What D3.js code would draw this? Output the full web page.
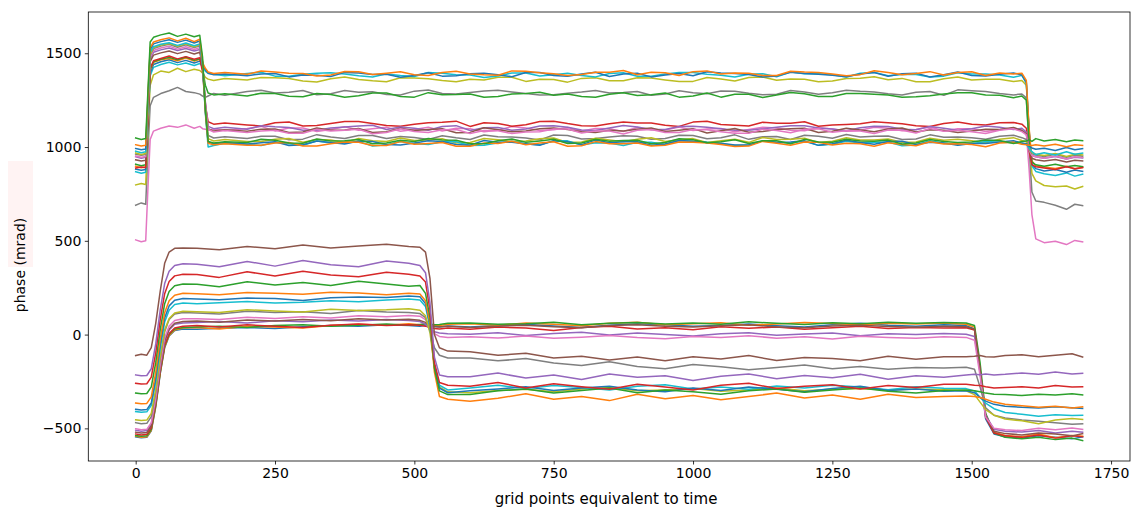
<!DOCTYPE html>
<html><head><meta charset="utf-8">
<script src="https://cdn.jsdelivr.net/npm/d3@7"></script>
<style>body{margin:0;background:#fff}svg{display:block}text{font-family:"DejaVu Sans",sans-serif}</style>
</head><body><svg id="c" width="1137" height="513"></svg>
<script>
// ---------- data ----------
const xTicks = [0, 250, 500, 750, 1000, 1250, 1500, 1750];
const yTicks = [-500, 0, 500, 1000, 1500];

// x samples of the lower family (grid points)
const lowerX = [0,10,20, 28,36,44,52,60,70,85, 110,150,200,250,300,350,400,450,490,510,
  520,528,536,545,560, 600,650,700,750,800,850,900,950,1000,1050,1100,1150,1200,1250,1300,1350,1400,1450,
  1490,1505,1515,1525,1540,1560, 1590,1620,1650,1680,1699];
// x samples of the upper family
const upperX = [0,10,18,22,26, 32,45,60,75,90,105,115, 120,125,130,140,160,
  200,225,250,275,300,325,350,375,400,425,450,475,500,525,550,575,600,625,650,675,700,725,750,775,800,825,850,875,
  900,925,950,975,1000,1025,1050,1075,1100,1125,1150,1175,1200,1225,1250,1275,1300,1325,1350,1375,1400,1425,1450,1475,1500,1525,1550,1575,
  1590,1598,1603,1608,1615, 1630,1650,1670,1685,1699];

// lower family, series 0..15
const low00 = [-545,-550,-548, -513,-385,-210,-70,-8,22,30, 28,34,38,32,42,48,44,52,48,45, 50,48,44,42,46,
  40,48,55,46,38,50,58,52,44,49,56,47,41,53,60,50,45,52, 48,30,-200,-450,-530,-545, -552,-540,-548,-556,-545];
const low01 = [-542,-548,-545, -510,-380,-205,-65,-5,25,35, 38,30,45,40,35,48,55,50,58,52, 55,52,50,48,55,
  58,50,62,55,47,60,66,52,58,63,50,56,65,59,52,61,56,62, 55,40,-180,-430,-520,-538, -545,-530,-550,-538,-542];
const low02 = [-538,-542,-540, -505,-375,-200,-60,0,30,38, 40,45,38,48,52,44,50,56,50,54, 56,55,52,54,60,
  62,55,58,66,52,60,64,57,62,55,68,60,54,63,58,66,60,64, 62,48,-150,-420,-525,-548, -555,-548,-560,-552,-565];
const low03 = [-530,-535,-532, -497,-368,-195,-55,5,35,45, 48,40,52,45,38,50,56,48,52,50, 45,38,32,30,35,
  28,40,35,22,38,45,30,36,26,42,34,40,28,36,44,32,38,35, 36,25,-190,-440,-525,-540, -548,-535,-552,-540,-545];
const low04 = [-510,-515,-512, -477,-350,-176,-38,25,55,62, 65,70,62,74,68,78,72,80,75,70, 55,30,15,8,5,
  2,10,-5,6,12,-2,8,0,-8,5,10,-4,3,9,-6,4,0,6, 2,-10,-200,-430,-505,-515, -520,-512,-525,-515,-520];
const low05 = [-520,-525,-522, -486,-355,-176,-34,30,60,70, 72,66,78,72,80,74,84,78,82,76, 65,50,42,40,44,
  38,45,50,42,36,48,52,44,40,47,53,41,37,46,50,43,39,45, 42,28,-185,-430,-515,-528, -535,-525,-530,-540,-528];
const low06 = [-502,-507,-505, -470,-340,-160,-18,45,75,85, 85,80,92,86,95,88,100,95,102,98, 80,40,5,-10,-15,
  -12,-18,-8,-20,-14,-5,-16,-22,-10,-15,-6,-19,-12,-24,-9,-16,-20,-12, -15,-30,-220,-440,-500,-508, -512,-500,-508,-498,-505];
const low07 = [-470,-475,-473, -437,-307,-130,15,80,110,118, 115,110,125,118,122,112,128,120,118,112, 90,20,-70,-110,-125,
  -125,-140,-128,-152,-165,-145,-170,-182,-160,-172,-188,-175,-162,-182,-170,-185,-175,-178, -174,-185,-280,-390,-430,-445, -455,-462,-470,-478,-475];
const low08 = [-454,-458,-456, -420,-292,-116,25,85,115,125, 122,118,132,126,120,135,128,132,138,130, 100,10,-170,-280,-305,
  -310,-298,-292,-305,-290,-282,-300,-295,-288,-302,-296,-285,-300,-292,-288,-296,-290,-294, -300,-320,-360,-400,-430,-450, -460,-475,-455,-448,-452];
const low09 = [-410,-414,-412, -377,-248,-73,67,130,160,168, 165,170,176,168,172,180,175,185,190,185, 150,40,-160,-270,-295,
  -285,-270,-288,-272,-282,-295,-276,-268,-290,-280,-292,-274,-285,-270,-280,-294,-278,-286, -288,-300,-335,-365,-395,-415, -425,-435,-428,-432,-430];
const low10 = [-398,-402,-400, -365,-233,-55,88,153,183,192, 190,186,195,192,182,196,200,198,206,202, 165,50,-170,-285,-310,
  -300,-290,-278,-298,-285,-275,-295,-305,-285,-298,-280,-292,-305,-288,-276,-298,-290,-302, -300,-310,-335,-355,-372,-382, -388,-392,-385,-390,-394];
const low11 = [-365,-369,-367, -332,-202,-25,116,180,210,220, 218,212,224,220,215,226,222,212,220,216, 180,60,-200,-330,-345,
  -355,-340,-315,-345,-330,-352,-318,-342,-325,-348,-330,-312,-338,-322,-345,-318,-335,-330, -328,-330,-335,-345,-360,-372, -380,-388,-382,-392,-385];
const low12 = [-312,-316,-314, -279,-150,25,165,230,260,270, 268,255,282,265,278,262,285,270,258,262, 220,90,-180,-300,-320,
  -320,-300,-290,-312,-298,-285,-310,-295,-305,-318,-300,-290,-308,-296,-285,-302,-312,-298, -296,-300,-305,-312,-318,-320, -325,-318,-322,-316,-322];
const low13 = [-260,-264,-262, -227,-98,78,218,283,313,322, 320,305,335,312,338,318,308,332,322,312, 280,130,-150,-255,-270,
  -275,-255,-285,-262,-278,-292,-265,-280,-295,-270,-260,-288,-275,-268,-290,-272,-282,-265, -265,-270,-272,-278,-285,-282, -278,-285,-272,-280,-278];
const low14 = [-215,-220,-218, -182,-50,130,272,338,368,378, 375,362,390,365,395,372,362,392,380,368, 330,170,-120,-215,-225,
  -225,-205,-232,-215,-240,-210,-228,-220,-245,-222,-210,-235,-218,-230,-212,-238,-220,-228, -215,-212,-214,-210,-215,-212, -205,-212,-200,-210,-206];
const low15 = [-112,-105,-110, -70,60,230,380,440,460,462, 460,452,470,458,478,462,472,482,470,466, 440,300,0,-70,-88,
  -92,-110,-100,-125,-115,-135,-120,-140,-118,-130,-112,-138,-122,-128,-140,-115,-132,-118, -118,-115,-112,-118,-120,-112, -108,-118,-110,-102,-120];

// upper family, series 16..32
const up16 = [505,495,500,780,1040, 1085,1100,1112,1105,1118,1100,1110, 1098,1095,1090,1096,1088,
  1099,1110,1086,1101,1102,1083,1094,1108,1090,1097,1105,1084,1093,1106,1085,1100,1098,1082,1090,1109,1101,1088,1092,1104,1086,1099,1097,1083,
  1104,1092,1091,1107,1088,1096,1099,1081,1093,1105,1102,1089,1087,1103,1096,1084,1090,1106,1100,1087,1094,1108,1085,1098,1097,1083,1092,1101,
  1090,1075,880,640,510, 490,498,480,502,494];
const up17 = [690,702,695,980,1220, 1265,1285,1300,1318,1296,1290,1282, 1272,1265,1272,1286,1276,
  1296,1303,1288,1292,1301,1279,1284,1301,1292,1295,1280,1277,1298,1304,1286,1283,1291,1299,1303,1294,1285,1278,1279,1287,1293,1302,1288,1291,
  1296,1276,1283,1300,1290,1284,1299,1298,1287,1279,1281,1301,1294,1282,1289,1303,1297,1293,1284,1278,1292,1296,1276,1305,1300,1296,1285,1278,
  1283,1262,1000,760,712, 705,690,668,695,688];
const up18 = [798,806,800,1080,1330, 1385,1405,1398,1420,1402,1415,1408, 1395,1372,1362,1355,1366,
  1358,1371,1370,1365,1352,1347,1364,1374,1360,1353,1348,1369,1368,1364,1355,1348,1362,1357,1372,1372,1350,1361,1360,1346,1366,1370,1354,1354,
  1369,1368,1358,1349,1350,1371,1363,1352,1371,1373,1356,1363,1361,1348,1352,1366,1367,1375,1359,1366,1348,1348,1364,1373,1357,1362,1362,1349,
  1355,1330,1080,860,820, 795,788,792,776,790];
const up19 = [868,860,866,1120,1380, 1425,1440,1452,1438,1448,1435,1445, 1430,1405,1392,1388,1380,
  1392,1399,1378,1378,1388,1394,1396,1389,1380,1373,1390,1382,1376,1397,1394,1386,1384,1371,1379,1395,1395,1379,1386,1393,1381,1374,1392,1396,
  1377,1377,1389,1398,1397,1388,1383,1373,1388,1391,1375,1400,1391,1391,1385,1373,1393,1398,1380,1387,1387,1374,1378,1396,1390,1390,1384,1372,
  1382,1340,1080,900,870, 858,848,862,845,855];
const up20 = [882,876,880,1130,1395, 1440,1455,1465,1450,1462,1448,1458, 1440,1412,1395,1385,1390,
  1380,1390,1392,1374,1384,1383,1376,1398,1395,1387,1388,1372,1382,1396,1378,1380,1391,1394,1386,1375,1397,1397,1381,1378,1389,1399,1376,1389,
  1393,1374,1384,1392,1380,1401,1395,1392,1387,1374,1379,1399,1392,1388,1383,1375,1390,1397,1377,1391,1394,1373,1386,1400,1381,1379,1388,1395,
  1384,1345,1090,910,885, 872,880,866,878,870];
const up21 = [898,890,895,1150,1410, 1452,1465,1472,1460,1475,1458,1468, 1450,1420,1400,1392,1398,
  1388,1405,1400,1394,1392,1379,1384,1403,1402,1387,1394,1401,1386,1382,1398,1404,1390,1385,1383,1406,1404,1396,1391,1381,1387,1399,1399,1408,
  1385,1399,1396,1381,1402,1406,1389,1395,1393,1382,1381,1404,1400,1398,1390,1380,1386,1407,1397,1386,1392,1402,1384,1397,1401,1381,1395,1390,
  1394,1355,1100,925,900, 893,886,898,884,892];
const up22 = [908,900,905,1160,1415, 1455,1468,1478,1465,1480,1462,1470, 1420,1330,1288,1278,1284,
  1272,1287,1285,1271,1268,1285,1280,1266,1274,1288,1288,1269,1266,1290,1279,1280,1283,1265,1270,1283,1286,1292,1276,1283,1269,1265,1282,1290,
  1275,1279,1288,1266,1272,1288,1266,1282,1281,1264,1277,1291,1284,1270,1270,1286,1285,1281,1278,1265,1268,1274,1283,1289,1290,1278,1276,1263,
  1272,1250,1030,920,905, 898,908,895,902,896];
const up23 = [888,894,890,1140,1420, 1460,1472,1485,1470,1482,1468,1476, 1400,1220,1135,1122,1128,
  1118,1112,1130,1134,1112,1115,1125,1136,1136,1126,1115,1111,1122,1129,1132,1138,1110,1129,1126,1111,1119,1136,1138,1125,1114,1112,1124,1134,
  1128,1128,1116,1110,1133,1137,1120,1116,1112,1132,1127,1127,1135,1111,1117,1120,1124,1135,1130,1124,1113,1109,1126,1133,1121,1117,1129,1131,
  1122,1100,980,905,895, 888,880,895,884,890];
const up24 = [948,940,945,1200,1470, 1505,1518,1528,1515,1525,1512,1520, 1440,1240,1110,1098,1105,
  1095,1114,1108,1104,1090,1089,1102,1107,1112,1116,1094,1107,1100,1089,1110,1114,1088,1103,1104,1090,1096,1112,1113,1106,1091,1088,1101,1115,
  1107,1094,1093,1110,1111,1105,1098,1089,1089,1098,1105,1113,1114,1102,1096,1087,1103,1111,1109,1095,1092,1109,1100,1090,1097,1112,1106,1093,
  1100,1080,990,955,948, 940,950,936,946,942];
const up25 = [932,926,930,1180,1455, 1490,1502,1512,1498,1510,1496,1505, 1430,1230,1098,1085,1092,
  1084,1095,1096,1077,1080,1102,1090,1091,1099,1078,1082,1100,1088,1094,1097,1076,1078,1103,1092,1082,1085,1098,1101,1093,1081,1077,1090,1086,
  1095,1101,1083,1090,1098,1075,1087,1099,1079,1083,1093,1097,1100,1078,1084,1100,1091,1081,1096,1102,1080,1092,1089,1077,1086,1095,1094,1104,
  1088,1070,985,940,932, 925,934,920,930,926];
const up26 = [952,946,950,1210,1480, 1515,1528,1538,1522,1535,1520,1530, 1450,1240,1095,1080,1088,
  1078,1086,1090,1073,1074,1095,1086,1089,1095,1071,1077,1098,1083,1077,1092,1093,1072,1088,1087,1072,1080,1081,1096,1096,1075,1085,1085,1070,
  1090,1094,1078,1078,1093,1092,1082,1073,1073,1095,1088,1076,1095,1097,1079,1087,1086,1072,1091,1090,1075,1099,1084,1090,1081,1072,1089,1097,
  1082,1065,985,955,948, 940,952,936,948,944];
const up27 = [962,956,960,1220,1490, 1525,1538,1548,1532,1545,1530,1540, 1450,1220,1062,1048,1055,
  1046,1057,1058,1039,1042,1066,1054,1045,1062,1061,1045,1056,1051,1040,1060,1049,1040,1064,1055,1053,1048,1038,1064,1062,1043,1046,1053,1060,
  1058,1041,1046,1063,1061,1044,1050,1065,1041,1055,1056,1040,1063,1058,1047,1067,1054,1058,1059,1040,1043,1065,1052,1054,1049,1041,1057,1063,
  1050,1040,990,965,958, 950,962,946,958,952];
const up28 = [968,960,965,1225,1495, 1530,1544,1552,1538,1550,1535,1545, 1450,1210,1045,1032,1040,
  1030,1029,1042,1045,1026,1040,1038,1024,1046,1033,1029,1048,1035,1037,1044,1022,1024,1046,1039,1030,1032,1044,1048,1025,1027,1047,1037,1028,
  1042,1049,1030,1039,1045,1024,1034,1042,1025,1051,1040,1042,1047,1024,1031,1049,1038,1038,1043,1025,1027,1047,1036,1041,1033,1023,1041,1050,
  1035,1028,995,970,962, 955,966,950,962,958];
const up29 = [978,970,975,1240,1505, 1535,1548,1556,1542,1555,1540,1550, 1440,1180,1000,1008,1020,
  1014,1008,1026,1017,1010,1032,1022,1021,1030,1006,1012,1030,1019,1014,1028,1028,1008,1009,1023,1031,1016,1012,1032,1033,1011,1023,1021,1008,
  1026,1026,1014,1035,1029,1026,1018,1008,1009,1033,1024,1022,1031,1009,1015,1031,1022,1025,1027,1007,1011,1034,1020,1013,1017,1029,1025,1024,
  1019,1015,995,975,960, 970,958,975,962,968];
const up30 = [992,986,990,1255,1520, 1550,1562,1572,1558,1570,1555,1565, 1450,1190,1025,1018,1024,
  1016,1023,1028,1008,1012,1032,1024,1016,1032,1030,1014,1011,1021,1033,1030,1014,1010,1035,1025,1025,1018,1010,1034,1028,1013,1037,1023,1028,
  1028,1010,1016,1035,1031,1024,1020,1011,1011,1033,1026,1027,1033,1009,1017,1036,1024,1015,1029,1031,1013,1026,1022,1010,1019,1019,1027,1034,
  1021,1018,1005,995,988, 994,982,998,986,992];
const up31 = [1012,1006,1010,1270,1530, 1560,1572,1582,1566,1580,1562,1575, 1460,1190,1020,1012,1018,
  1010,1010,1022,1024,1006,1005,1018,1027,1026,1008,1008,1029,1015,1019,1024,1004,1004,1022,1019,1031,1012,1022,1028,1004,1007,1029,1017,1018,
  1022,1005,1010,1027,1025,1021,1014,1003,1005,1030,1020,1009,1027,1025,1011,1020,1018,1004,1023,1013,1007,1028,1016,1017,1013,1002,1021,1026,
  1015,1012,1010,1008,1012, 1005,1015,1002,1012,1008];
const up32 = [1048,1040,1045,1300,1560, 1585,1598,1608,1590,1602,1588,1596, 1480,1200,1030,1022,1028,
  1024,1041,1036,1022,1020,1043,1032,1033,1040,1018,1022,1036,1029,1045,1038,1036,1018,1018,1033,1043,1026,1032,1042,1019,1021,1041,1031,1035,
  1036,1017,1024,1044,1039,1023,1028,1039,1019,1034,1034,1018,1041,1027,1025,1042,1032,1031,1037,1016,1021,1040,1030,1024,1027,1038,1035,1019,
  1029,1032,1040,1030,1045, 1032,1040,1028,1038,1034];

const lowerSeries = [low00,low01,low02,low03,low04,low05,low06,low07,low08,low09,low10,low11,low12,low13,low14,low15];
const upperSeries = [up16,up17,up18,up19,up20,up21,up22,up23,up24,up25,up26,up27,up28,up29,up30,up31,up32];

// ---------- drawing ----------
const svg = d3.select("#c");
const M = {left: 88.3, right: 1130, top: 12, bottom: 461};
const x = d3.scaleLinear().domain([-85, 1784]).range([M.left, M.right]);
const y = d3.scaleLinear().domain([-674, 1720]).range([M.bottom, M.top]);
const colors = d3.schemeCategory10;
const fmt = d => String(d).replace("-", "\u2212");

// faint highlight behind the y label
svg.append("rect").attr("x", 8).attr("y", 161).attr("width", 25).attr("height", 106).attr("fill", "#fff3f3");

const line = d3.line().defined(d => d[1] != null && d[0] != null).x(d => x(d[0])).y(d => y(d[1]));
const all = [];
lowerSeries.forEach(s => all.push(s.map((v, i) => [lowerX[i], v])));
upperSeries.forEach(s => all.push(s.map((v, i) => [upperX[i], v])));
svg.append("g").selectAll("path").data(all).join("path")
  .attr("d", line).attr("fill", "none")
  .attr("stroke", (d, i) => colors[i % 10])
  .attr("stroke-width", 1.5).attr("stroke-linejoin", "round").attr("stroke-linecap", "square");

// axes
const xa = svg.append("g").attr("transform", `translate(0,${M.bottom})`)
  .call(d3.axisBottom(x).tickValues(xTicks).tickSize(3.5).tickPadding(3.5).tickFormat(fmt));
const ya = svg.append("g").attr("transform", `translate(${M.left},0)`)
  .call(d3.axisLeft(y).tickValues(yTicks).tickSize(3.5).tickPadding(3.5).tickFormat(fmt));
[xa, ya].forEach(g => {
  g.select(".domain").remove();
  g.selectAll(".tick line").attr("stroke", "#000").attr("stroke-width", 0.8);
  g.selectAll(".tick text").attr("fill", "#000").style("font-size", "14px").style("font-family", "DejaVu Sans");
});
svg.append("rect").attr("x", M.left).attr("y", M.top).attr("width", M.right - M.left).attr("height", M.bottom - M.top)
  .attr("fill", "none").attr("stroke", "#000").attr("stroke-width", 0.8);

svg.append("text").attr("x", 606).attr("y", 504).attr("text-anchor", "middle")
  .style("font-size", "15px").attr("fill", "#000").text("grid points equivalent to time");
svg.append("text").attr("transform", "translate(25,265) rotate(-90)").attr("text-anchor", "middle")
  .style("font-size", "14px").attr("fill", "#000").text("phase (mrad)");
</script></body></html>
